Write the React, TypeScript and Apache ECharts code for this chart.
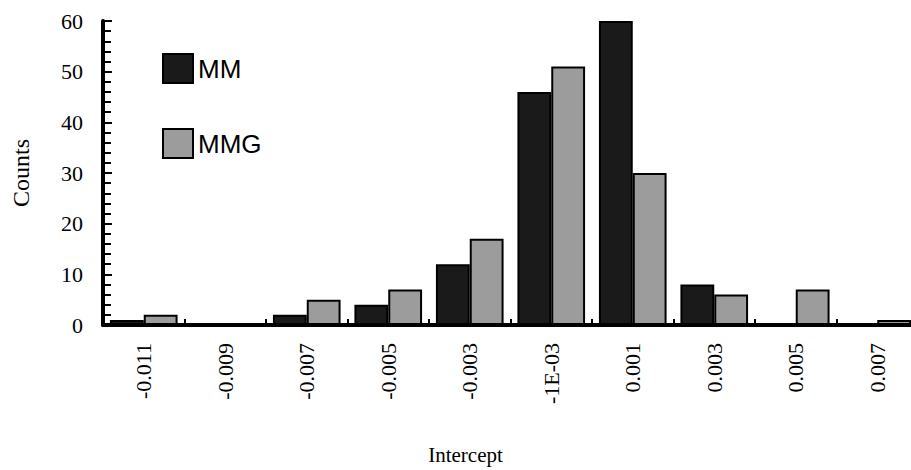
import React, { useEffect, useRef } from "react";
import * as echarts from "echarts";

const categories = ["-0.011", "-0.009", "-0.007", "-0.005", "-0.003", "-1E-03", "0.001", "0.003", "0.005", "0.007"];
const mmValues = [1, 0, 2, 4, 12, 46, 60, 8, 0, 0];
const mmgValues = [2, 0, 5, 7, 17, 51, 30, 6, 7, 1];
const yTicks = [0, 10, 20, 30, 40, 50, 60];

export default function App() {
  const ref = useRef<HTMLDivElement>(null);
  useEffect(() => {
    if (!ref.current) return;
    const chart = echarts.init(ref.current, null, { renderer: "svg" });
    const serif = "'Liberation Serif', 'DejaVu Serif', serif";
    chart.setOption({
      animation: false,
      backgroundColor: "#ffffff",
      grid: { left: 103, right: 2, top: 21, bottom: 134 },
      legend: {
        orient: "vertical",
        left: 157,
        top: 48,
        itemWidth: 30,
        itemHeight: 29,
        itemGap: 44,
        icon: "rect",
        textStyle: { fontFamily: "'Liberation Sans', Arial, sans-serif", fontSize: 26, color: "#000", lineHeight: 29 },
        data: ["MM", "MMG"],
      },
      xAxis: {
        type: "category",
        data: categories,
        name: "Intercept",
        nameLocation: "middle",
        nameGap: 119,
        nameTextStyle: { fontFamily: serif, fontSize: 21, color: "#000", padding: [0, 90, 0, 0] },
        axisLine: { lineStyle: { color: "#000", width: 4 } },
        axisTick: { show: true, inside: true, length: 6, lineStyle: { color: "#000", width: 2 } },
        axisLabel: { rotate: 90, margin: 18, fontFamily: serif, fontSize: 22, color: "#000" },
        splitLine: { show: false },
      },
      yAxis: {
        type: "value",
        min: 0,
        max: 60,
        interval: 10,
        name: "Counts",
        nameLocation: "middle",
        nameGap: 70,
        nameTextStyle: { fontFamily: serif, fontSize: 24, color: "#000" },
        axisLine: { show: true, lineStyle: { color: "#000", width: 4 } },
        axisTick: { show: true, inside: true, length: 9, lineStyle: { color: "#000", width: 2 } },
        minorTick: { show: true, splitNumber: 5, length: 8, lineStyle: { color: "#000", width: 2 } },
        axisLabel: {
          margin: 20,
          fontFamily: serif,
          fontSize: 22,
          color: "#000",
          formatter: (v: number) => (yTicks.includes(v) ? String(v) : ""),
        },
        splitLine: { show: false },
      },
      series: [
        {
          name: "MM",
          type: "bar",
          data: mmValues,
          barGap: "0%",
          barCategoryGap: "17%",
          itemStyle: { color: "#1a1a1a", borderColor: "#000", borderWidth: 2 },
        },
        {
          name: "MMG",
          type: "bar",
          data: mmgValues,
          barGap: "0%",
          barCategoryGap: "17%",
          itemStyle: { color: "#9c9c9c", borderColor: "#000", borderWidth: 2 },
        },
      ],
    });
    return () => chart.dispose();
  }, []);
  return (
    <div
      ref={ref}
      style={{ position: "fixed", left: 0, top: 0, width: 920, height: 470, background: "#fff" }}
    />
  );
}
